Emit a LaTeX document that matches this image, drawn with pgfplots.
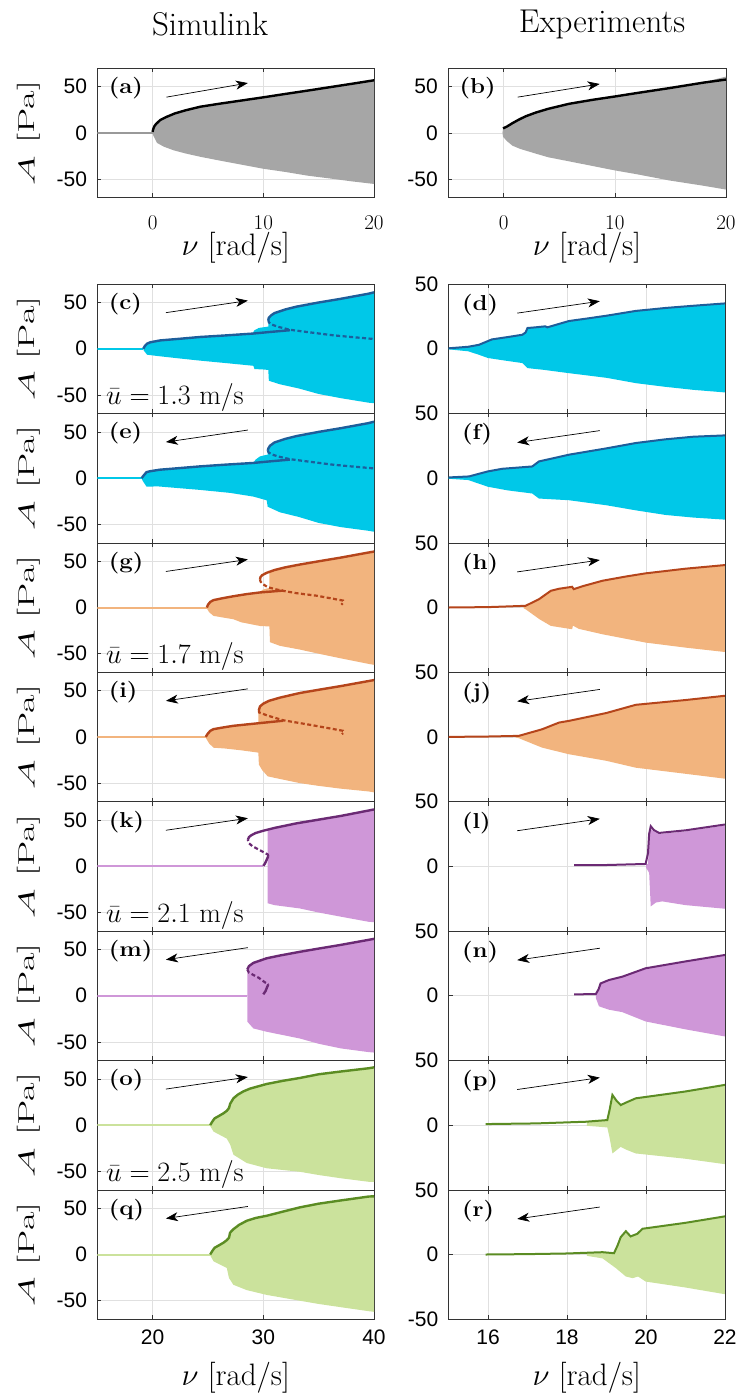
\RequirePackage{fix-cm}
\documentclass[border=0pt]{standalone}
\usepackage{fontspec}
\usepackage{graphicx}
\usepackage{pgfplots}
\pgfplotsset{compat=1.18}
\usetikzlibrary{arrows.meta}
\newfontfamily\ticksans{Liberation Sans}

\definecolor{cyanF}{HTML}{00C8E8}
\definecolor{cyanL}{HTML}{1D5E9B}
\definecolor{orgF}{HTML}{F2B47E}
\definecolor{orgL}{HTML}{B5451B}
\definecolor{purF}{HTML}{CF97D8}
\definecolor{purL}{HTML}{6B2A74}
\definecolor{grnF}{HTML}{CBE29C}
\definecolor{grnL}{HTML}{5B8C23}
\definecolor{grayF}{HTML}{A6A6A6}

\newcommand{\ylab}{\scalebox{1.75}[1]{\fontsize{23}{25}\selectfont $A$ [Pa]}}
\newcommand{\xlab}{\fontsize{31}{33}\selectfont $\nu$ [rad/s]}
\newcommand{\plab}[1]{\scalebox{1}[0.9]{\fontsize{24}{26}\selectfont\bfseries (#1)}}
\newcommand{\ulab}[1]{\fontsize{28}{30}\selectfont $\bar{u}=#1~\mathrm{m/s}$}

\tikzset{arr/.style={black, line width=0.7pt, -{Stealth[length=12pt,width=9pt,inset=3.5pt]}}}

\pgfplotsset{
  panel/.style={scale only axis, anchor=north west,
    axis line style={draw=black!80, line width=0.6pt},
    tick align=inside, major tick length=4pt,
    every tick/.style={black!80, line width=0.6pt},
    grid=major, major grid style={black!12, line width=0.6pt},
    ticklabel style={font=\ticksans\fontsize{21}{23}\selectfont},
    yticklabel style={anchor=east, inner sep=0pt, xshift=-10pt},
    xticklabel style={anchor=center, inner sep=0pt},
    ylabel style={at={(rel axis cs:0,0.5)}, anchor=center, yshift=68.3pt}},
  leftp/.style={panel, width=276.7pt, height=129.4pt, xmin=15, xmax=40,
    ymin=-70, ymax=70, xtick={20,30,40}, ytick={-50,0,50},
    yticklabels={-50,0,50}, xticklabels={}, ylabel={\ylab}},
  rightp/.style={panel, width=276.5pt, height=129.4pt, xmin=15, xmax=22,
    ymin=-50, ymax=50, xtick={16,18,20,22}, ytick={0,50},
    yticklabels={0,50}, xticklabels={}},
  simL/.style={line width=2.4pt},
  dsh/.style={line width=2.2pt, dash pattern=on 4pt off 2.5pt},
  preL/.style={line width=2pt},
  expL/.style={line width=2pt},
}

\begin{document}
\begin{tikzpicture}
\useasboundingbox (0pt,0pt) rectangle (738pt,-1393pt);

\node[font=\fontsize{33}{35}\selectfont] at (210pt,-24pt) {Simulink};
\node[font=\fontsize{33}{35}\selectfont] at (602pt,-24pt) {Experiments};

% ---------------- (a) ----------------
\begin{axis}[panel, at={(97.3pt,-68.3pt)}, width=276.7pt, height=129pt,
  xmin=-5, xmax=20, ymin=-70, ymax=70, xtick={0,10,20}, ytick={-50,0,50},
  yticklabels={-50,0,50}, xticklabel style={yshift=-25pt},
  ylabel={\ylab}, xlabel={\xlab},
  xlabel style={at={(rel axis cs:0.5,0)}, anchor=center, yshift=-50pt}]
\addplot[fill=grayF, draw=none] coordinates {(0,1)(0.1,5)(0.3,9)(0.7,14)(1.2,17)(2,21)(3,24.5)(4.3,28.3)(6,31.5)(8,35)(10,38.5)(12,42.2)(14,45.8)(16,49.5)(18,53.2)(20,57)(20,-55.5)(18,-52.7)(16.3,-50)(14,-46.5)(12,-42.5)(10,-39)(8,-34.5)(6,-30)(4.3,-26)(3,-22.5)(1.9,-19)(1,-15)(0.4,-11)(0.1,-4)(0,-1)};
\addplot[preL, color=black!40] coordinates {(-5,0)(0,0)};
\addplot[simL, black] coordinates {(0,1)(0.05,4)(0.15,7)(0.3,9.5)(0.7,14)(1.2,17)(2,21)(3,24.5)(4.3,28.3)(6,31.5)(8,35)(10,38.5)(12,42.2)(14,45.8)(16,49.5)(18,53.2)(20,57)};
\draw[arr] (axis cs:1.24,38.7) -- (axis cs:8.6,54);
\node[anchor=west, xshift=8pt, yshift=-20pt] at (rel axis cs:0,1) {\plab{a}};
\end{axis}

% ---------------- (b) ----------------
\begin{axis}[panel, at={(448pt,-68.3pt)}, width=278pt, height=129pt,
  xmin=-5, xmax=20, ymin=-70, ymax=70, xtick={0,10,20}, ytick={-50,0,50},
  yticklabels={-50,0,50}, xticklabel style={yshift=-25pt},
  xlabel={\xlab},
  xlabel style={at={(rel axis cs:0.5,0)}, anchor=center, yshift=-50pt}]
\addplot[fill=grayF, draw=none] coordinates {(-0.1,0)(-0.05,4.8)(0.3,6.8)(0.8,10.5)(1.4,14.5)(2,18)(2.9,22)(4,26)(5.9,31.5)(8,35.8)(10,39.4)(12,43.2)(14.9,48.5)(18,55)(20,61)(20,-61.6)(18,-57.5)(14.9,-51.7)(12,-45)(10,-40.8)(8,-36)(5.9,-31)(4,-26.5)(2.9,-22.6)(1.5,-17.5)(0.8,-14)(0.3,-9)(-0.05,-4.3)};
\addplot[simL, black] coordinates {(-0.05,4.8)(0.3,6.8)(0.8,10.5)(1.4,14.5)(2,18)(2.9,22)(4,26)(5.9,31.5)(8,35.8)(10,39.4)(12,43.2)(14.9,48.5)(18,54.5)(20,57.8)};
\draw[arr] (axis cs:1.26,38.7) -- (axis cs:8.64,53);
\node[anchor=west, xshift=8pt, yshift=-20pt] at (rel axis cs:0,1) {\plab{b}};
\end{axis}

% ================= left column: Simulink =================
% (c) u = 1.3, increasing
\begin{axis}[leftp, at={(97.3pt,-284pt)}]
\addplot[fill=cyanF, draw=none] coordinates {(19.15,0)(19.3,3)(19.5,5.5)(19.8,7)(20.7,9)(22.5,10.8)(24.3,12.7)(26.5,14.3)(29.0,16.3)(29.2,20)(29.6,22.5)(30.2,23.5)(30.45,24)(30.45,31)(30.6,35)(31,38.5)(32,42.5)(33,45.5)(35,50)(37,54)(39.5,59.5)(40,61)(40,-59)(39.5,-58.4)(37,-53.5)(35,-49)(33.2,-43)(31.5,-38.5)(30.5,-34.7)(30.45,-23)(30,-22.5)(29.2,-22)(29.1,-18.5)(27,-16)(24.2,-12.8)(22,-10)(20.5,-8)(19.5,-6.5)(19.2,-2)};
\addplot[preL, cyanF] coordinates {(15,0)(19.15,0)};
\addplot[simL, cyanL] coordinates {(19.15,0)(19.3,3)(19.5,5.5)(19.8,7)(20.7,9)(22.5,10.8)(24.3,12.7)(26.5,14.3)(29.1,16.4)(30.5,18)(32.4,20)};
\addplot[simL, cyanL] coordinates {(30.45,31)(30.5,33.5)(30.7,36)(31,38.5)(32,42.5)(33,45.5)(35,50)(37,54)(39.5,59.5)(40,61)};
\addplot[dsh, cyanL] coordinates {(30.45,31)(30.5,28.5)(30.8,26)(31.3,23.8)(32.4,20.5)(34,18)(36.3,14.5)(38,12.6)(40,10.5)};
\draw[arr] (axis cs:21.2,39) -- (axis cs:28.6,52);
\node[anchor=west, xshift=8pt, yshift=-20pt] at (rel axis cs:0,1) {\plab{c}};
\node[anchor=base west, inner sep=0pt, xshift=8.7pt, yshift=8.4pt] at (rel axis cs:0,0) {\ulab{1.3}};
\end{axis}

% (e) u = 1.3, decreasing
\begin{axis}[leftp, at={(97.3pt,-413.4pt)}]
\addplot[fill=cyanF, draw=none] coordinates {(19.0,0)(19.2,3)(19.45,6.5)(19.8,7.5)(20.66,9.1)(22.5,10.9)(24.3,12.7)(26.5,14.5)(29.1,16.4)(29.3,20)(29.7,23.5)(30.2,25)(30.4,25)(30.4,29.5)(30.6,35)(31,38.5)(32,42.5)(33,45.5)(35,50)(37,54)(39.5,59.5)(40,61)(40,-58)(39.5,-57)(37,-53)(35,-48.5)(33.2,-42)(31.5,-37)(30.4,-31)(30.3,-24)(29.1,-20)(27,-16)(24.3,-12.8)(22,-10.5)(20.5,-9)(19.45,-9.2)(19.1,-3)};
\addplot[preL, cyanF] coordinates {(15,0)(19.0,0)};
\addplot[simL, cyanL] coordinates {(19.0,0)(19.2,3)(19.45,6.5)(19.8,7.5)(20.66,9.1)(22.5,10.9)(24.3,12.7)(26.5,14.5)(29.1,16.4)(30.5,18)(32.4,20)};
\addplot[simL, cyanL] coordinates {(30.4,29.5)(30.45,32)(30.6,35)(31,38.5)(32,42.5)(33,45.5)(35,50)(37,54)(39.5,59.5)(40,61)};
\addplot[dsh, cyanL] coordinates {(30.4,29.5)(30.5,27.5)(30.8,25.5)(31.3,23.5)(32.4,20.5)(34,18)(36.3,14.5)(38,12.6)(40,10.5)};
\draw[arr] (axis cs:28.6,52) -- (axis cs:21.2,39);
\node[anchor=west, xshift=8pt, yshift=-20pt] at (rel axis cs:0,1) {\plab{e}};
\end{axis}

% (g) u = 1.7, increasing
\begin{axis}[leftp, at={(97.3pt,-542.8pt)}]
\addplot[fill=orgF, draw=none] coordinates {(24.9,0)(25.0,3)(25.2,6)(25.5,8)(26.3,10)(27.3,12.2)(28.5,14.5)(29.7,16.3)(29.9,19)(30.3,20.5)(30.55,21)(30.55,37.8)(31,40.5)(32,43.5)(33.3,46.5)(35,50)(37,54)(39.5,59.5)(40,60.5)(40,-62)(39.5,-61)(37,-55)(35,-50)(33.3,-45.5)(31.5,-41.5)(30.6,-37.5)(30.55,-20.5)(29.7,-20)(28,-16)(27.3,-12.7)(25.5,-9.1)(25.1,-5)(24.9,-1)};
\addplot[preL, orgF] coordinates {(15,0)(24.9,0)};
\addplot[simL, orgL] coordinates {(24.9,0)(25.0,3)(25.2,6)(25.5,8)(26.3,10)(27.3,12.2)(28.5,14.5)(29.7,16.3)(31.8,18.3)};
\addplot[simL, orgL] coordinates {(29.7,30.6)(29.75,33)(29.9,35)(30.3,37.5)(31,40.5)(32,43.5)(33.3,46.5)(35,50)(37,54)(39.5,59.5)(40,60.5)};
\addplot[dsh, orgL] coordinates {(29.7,30.6)(29.75,28)(30.0,25)(30.4,22)(31.2,19.5)(31.8,18)(33,15.5)(34.8,12.8)(37.2,7.5)(37.2,5)(37.05,3)};
\draw[arr] (axis cs:21.2,39) -- (axis cs:28.6,52);
\node[anchor=west, xshift=8pt, yshift=-20pt] at (rel axis cs:0,1) {\plab{g}};
\node[anchor=base west, inner sep=0pt, xshift=8.7pt, yshift=8.4pt] at (rel axis cs:0,0) {\ulab{1.7}};
\end{axis}

% (i) u = 1.7, decreasing
\begin{axis}[leftp, at={(97.3pt,-672.2pt)}]
\addplot[fill=orgF, draw=none] coordinates {(24.8,0)(24.95,3)(25.2,6.5)(25.5,8.4)(26.5,10.5)(28,13)(29.55,15)(29.55,29)(29.7,33)(30,36)(30.5,39)(31.5,42.5)(33.3,47.5)(35,51)(37,55)(40,61.5)(40,-60)(39.5,-59)(37,-56)(35,-53)(33.3,-50)(31.5,-45.5)(30.4,-42.7)(29.9,-36)(29.6,-30)(29.55,-17)(28,-14.5)(26.5,-12.5)(25.5,-11.7)(25.1,-7)(24.8,-1)};
\addplot[preL, orgF] coordinates {(15,0)(24.8,0)};
\addplot[simL, orgL] coordinates {(24.8,0)(24.95,3)(25.2,6.5)(25.5,8.4)(26.5,10.5)(27.3,12)(28.5,13.5)(29.4,14.6)(31.8,17.5)};
\addplot[simL, orgL] coordinates {(29.6,29)(29.7,33)(30,36)(30.5,39)(31.5,42.5)(33.3,47.5)(35,51)(37,55)(40,61.5)};
\addplot[dsh, orgL] coordinates {(29.6,29)(29.62,26.5)(30.4,23)(31.8,18)(34.5,12.5)(37.2,6.6)(37.25,4.5)(37.1,3)};
\draw[arr] (axis cs:28.6,52) -- (axis cs:21.2,39);
\node[anchor=west, xshift=8pt, yshift=-20pt] at (rel axis cs:0,1) {\plab{i}};
\end{axis}

% (k) u = 2.1, increasing
\begin{axis}[leftp, at={(97.3pt,-801.6pt)}]
\addplot[fill=purF, draw=none] coordinates {(30.4,39)(31,41.5)(33,46.5)(35,50.5)(37,54.5)(40,61.5)(40,-60.5)(39.5,-60)(37,-54.5)(35,-50)(33.3,-45.6)(31,-42)(30.4,-40)};
\addplot[preL, purF] coordinates {(15,0)(30.0,0)};
\addplot[simL, purL] coordinates {(30.0,0.5)(30.15,3)(30.3,7)(30.45,11)};
\addplot[dsh, purL] coordinates {(30.45,11)(30.4,12.8)(29.6,18)(29.0,21.9)(28.7,25)(28.6,28.6)};
\addplot[simL, purL] coordinates {(28.6,28.6)(28.7,31.5)(28.9,33.5)(29.3,36)(30,38.5)(31,41.5)(33,46.5)(35,50.5)(37,54.5)(40,61.5)};
\draw[arr] (axis cs:21.2,39) -- (axis cs:28.6,52);
\node[anchor=west, xshift=8pt, yshift=-20pt] at (rel axis cs:0,1) {\plab{k}};
\node[anchor=base west, inner sep=0pt, xshift=8.7pt, yshift=8.4pt] at (rel axis cs:0,0) {\ulab{2.1}};
\end{axis}

% (m) u = 2.1, decreasing
\begin{axis}[leftp, at={(97.3pt,-931pt)}]
\addplot[fill=purF, draw=none] coordinates {(28.55,28.4)(28.7,32)(29.1,35.5)(30.3,40.5)(31.5,43.5)(33.3,47.5)(35,51)(37,55)(40,61.5)(40,-61.5)(39.5,-61)(37,-57)(35,-52)(33.3,-46.3)(30.3,-39)(29.1,-35.4)(28.55,-28)};
\addplot[preL, purF] coordinates {(15,0)(28.55,0)};
\addplot[simL, purL] coordinates {(28.55,28.4)(28.7,32)(29.1,35.5)(30.3,40.5)(31.5,43.5)(33.3,47.5)(35,51)(37,55)(40,61.5)};
\addplot[dsh, purL] coordinates {(28.55,28.4)(28.7,25)(29.6,19.3)(30.2,14)(30.45,12.4)};
\addplot[simL, purL] coordinates {(30.45,12.4)(30.2,5)(30.0,1.5)};
\draw[arr] (axis cs:28.6,52) -- (axis cs:21.2,39);
\node[anchor=west, xshift=8pt, yshift=-20pt] at (rel axis cs:0,1) {\plab{m}};
\end{axis}

% (o) u = 2.5, increasing
\begin{axis}[leftp, at={(97.3pt,-1060.4pt)}]
\addplot[fill=grnF, draw=none] coordinates {(25.2,0)(25.4,4)(25.6,7.3)(26,10)(26.4,12.8)(26.7,15.5)(26.9,18.5)(27.0,23)(27.3,29)(27.7,33)(28.2,36.5)(28.8,39.5)(30.3,44.5)(31.8,48)(33.3,51)(35,55)(37,58)(39.5,61.5)(40,62.5)(40,-61.5)(39.5,-61.3)(37,-57.5)(35,-54)(33.3,-50.5)(30.3,-46.7)(28.5,-41)(27.3,-32)(27.0,-21)(26.7,-14.6)(25.5,-7)(25.2,-1)};
\addplot[preL, grnF] coordinates {(15,0)(25.2,0)};
\addplot[simL, grnL] coordinates {(25.2,0)(25.4,4)(25.6,7.3)(26,10)(26.4,12.8)(26.7,15.5)(26.9,18.5)(27.0,23)(27.3,29)(27.7,33)(28.2,36.5)(28.8,39.5)(30.3,44.5)(31.8,48)(33.3,51)(35,55)(37,58)(39.5,61.5)(40,62.5)};
\draw[arr] (axis cs:21.2,39) -- (axis cs:28.6,52);
\node[anchor=west, xshift=8pt, yshift=-20pt] at (rel axis cs:0,1) {\plab{o}};
\node[anchor=base west, inner sep=0pt, xshift=8.7pt, yshift=8.4pt] at (rel axis cs:0,0) {\ulab{2.5}};
\end{axis}

% (q) u = 2.5, decreasing
\begin{axis}[leftp, at={(97.3pt,-1189.8pt)}, xticklabels={20,30,40},
  xticklabel style={yshift=-18pt}, xlabel={\xlab},
  xlabel style={at={(rel axis cs:0.5,0)}, anchor=center, yshift=-59pt}]
\addplot[fill=grnF, draw=none] coordinates {(25.2,0)(25.4,4)(25.6,7.3)(26,10)(26.4,12.8)(26.7,15.5)(26.9,18.2)(27.0,23.7)(27.3,27.4)(27.8,32)(28.5,36.5)(29.3,39.5)(30.3,41.9)(31.8,46.5)(33.3,51)(35,55)(37,58.5)(39.5,62.7)(40,63)(40,-62)(39.5,-61.3)(37,-57)(35,-53.5)(33.3,-50)(30.3,-43.7)(28.5,-38.5)(27.3,-32.8)(26.9,-25.5)(26.7,-14.6)(25.5,-7.3)(25.2,-1)};
\addplot[preL, grnF] coordinates {(15,0)(25.2,0)};
\addplot[simL, grnL] coordinates {(25.2,0)(25.4,4)(25.6,7.3)(26,10)(26.4,12.8)(26.7,15.5)(26.9,18.2)(27.0,23.7)(27.3,27.4)(27.8,32)(28.5,36.5)(29.3,39.5)(30.3,41.9)(31.8,46.5)(33.3,51)(35,55)(37,58.5)(39.5,62.7)(40,63)};
\draw[arr] (axis cs:28.6,52) -- (axis cs:21.2,39);
\node[anchor=west, xshift=8pt, yshift=-20pt] at (rel axis cs:0,1) {\plab{q}};
\end{axis}

% ================= right column: experiments =================
% (d)
\begin{axis}[rightp, at={(448.5pt,-284pt)}]
\addplot[fill=cyanF, draw=none] coordinates {(15,0.3)(15.5,1.5)(15.77,3)(16.1,7.2)(16.5,9)(16.87,10.8)(16.95,12.5)(17.0,16)(17.2,16.5)(17.45,17.3)(17.5,16.5)(18.05,21.4)(18.5,23.3)(19,25.5)(19.74,29.2)(20.5,31.5)(21.2,33.2)(22,35)(22,-33.8)(21.2,-31.8)(20.5,-29.5)(19.74,-26.6)(19,-22.5)(18.05,-18.9)(17.4,-16.3)(17.0,-15)(16.87,-11.1)(16.5,-9.5)(16.0,-7.2)(15.77,-4.7)(15.5,-2)(15,-0.5)};
\addplot[expL, cyanL] coordinates {(15,0.3)(15.5,1.5)(15.77,3)(16.1,7.2)(16.5,9)(16.87,10.8)(16.95,12.5)(17.0,16)(17.2,16.5)(17.45,17.3)(17.5,16.5)(18.05,21.4)(18.5,23.3)(19,25.5)(19.74,29.2)(20.5,31.5)(21.2,33.2)(22,35)};
\draw[arr] (axis cs:16.74,27.5) -- (axis cs:18.83,36.7);
\node[anchor=west, xshift=10pt, yshift=-21pt] at (rel axis cs:0,1) {\plab{d}};
\end{axis}

% (f)
\begin{axis}[rightp, at={(448.5pt,-413.4pt)}]
\addplot[fill=cyanF, draw=none] coordinates {(15,0.5)(15.52,1.3)(16.0,5.2)(16.36,7.2)(17.12,9.0)(17.29,12.9)(17.6,15)(18.05,18.1)(19,23)(19.74,27.1)(20.5,30)(21.2,32)(22,33)(22,-32.1)(21.2,-30.5)(20.5,-28.5)(19.74,-24.9)(19,-21)(18.05,-17.1)(17.29,-15.8)(17.12,-11.9)(16.5,-9.5)(16.0,-6.7)(15.5,-1.5)(15,-0.5)};
\addplot[expL, cyanL] coordinates {(15,0.5)(15.52,1.3)(16.0,5.2)(16.36,7.2)(17.12,9.0)(17.29,12.9)(17.6,15)(18.05,18.1)(19,23)(19.74,27.1)(20.5,30)(21.2,32)(22,33)};
\draw[arr] (axis cs:18.83,36.7) -- (axis cs:16.74,27.5);
\node[anchor=west, xshift=10pt, yshift=-21pt] at (rel axis cs:0,1) {\plab{f}};
\end{axis}

% (h)
\begin{axis}[rightp, at={(448.5pt,-542.8pt)}]
\addplot[fill=orgF, draw=none] coordinates {(16.9,0.5)(16.95,1.3)(17.29,6.4)(17.59,12.9)(17.8,14.5)(18.13,16)(18.17,14.2)(18.4,16.5)(18.9,20.7)(19.5,24)(19.99,26.4)(21,30)(22,32.8)(22,-34.4)(21,-31)(19.99,-27.1)(18.9,-20.7)(18.3,-16.5)(18.15,-14)(18.13,-16.8)(17.59,-14.2)(17.3,-9)(16.95,-1.3)(16.9,-0.5)};
\addplot[expL, orgL] coordinates {(15,0)(16,0.3)(16.95,1.3)(17.29,6.4)(17.59,12.9)(17.8,14.5)(18.13,16)(18.17,14.2)(18.4,16.5)(18.9,20.7)(19.5,24)(19.99,26.4)(21,30)(22,32.8)};
\draw[arr] (axis cs:16.74,27.5) -- (axis cs:18.83,36.7);
\node[anchor=west, xshift=10pt, yshift=-21pt] at (rel axis cs:0,1) {\plab{h}};
\end{axis}

% (j)
\begin{axis}[rightp, at={(448.5pt,-672.2pt)}]
\addplot[fill=orgF, draw=none] coordinates {(16.7,0.5)(16.78,0.8)(17.37,5.9)(17.8,11.1)(18.05,12.4)(19,18.5)(19.74,24.8)(21,28.5)(22,31.8)(22,-32.3)(21,-28.5)(19.74,-23.8)(19,-18.5)(18.05,-13.4)(17.37,-8.3)(16.78,-1)(16.7,-0.5)};
\addplot[expL, orgL] coordinates {(15,0)(16,0.3)(16.78,0.8)(17.37,5.9)(17.8,11.1)(18.05,12.4)(19,18.5)(19.74,24.8)(21,28.5)(22,31.8)};
\draw[arr] (axis cs:18.83,36.7) -- (axis cs:16.74,27.5);
\node[anchor=west, xshift=10pt, yshift=-21pt] at (rel axis cs:0,1) {\plab{j}};
\end{axis}

% (l)
\begin{axis}[rightp, at={(448.5pt,-801.6pt)}]
\addplot[fill=purF, draw=none] coordinates {(20.0,1)(20.05,2)(20.1,29)(20.2,27)(20.33,25)(21,27)(22,31.5)(22,-32.8)(21,-30)(20.41,-27.1)(20.25,-28)(20.12,-31)(20.08,-5)(20.0,-1)};
\addplot[expL, purL] coordinates {(18.18,1)(19.0,1)(19.99,1.8)(20.05,10)(20.08,25)(20.12,31)(20.2,28)(20.33,25.8)(21,27.8)(22,32.3)};
\draw[arr] (axis cs:16.74,27.5) -- (axis cs:18.83,36.7);
\node[anchor=west, xshift=10pt, yshift=-21pt] at (rel axis cs:0,1) {\plab{l}};
\end{axis}

% (n)
\begin{axis}[rightp, at={(448.5pt,-931pt)}]
\addplot[fill=purF, draw=none] coordinates {(18.73,1.3)(18.8,5)(18.85,9.5)(19.06,12.1)(19.4,14.7)(19.99,21.2)(21,26.5)(22,31.5)(22,-31.5)(21,-26)(19.99,-19.9)(19.4,-12.7)(19.06,-10.8)(18.81,-8.2)(18.73,-1.8)};
\addplot[expL, purL] coordinates {(18.18,1)(18.73,1.3)(18.8,5)(18.85,9.5)(19.06,12.1)(19.4,14.7)(19.99,21.2)(21,26.5)(22,31.5)};
\draw[arr] (axis cs:18.83,36.7) -- (axis cs:16.74,27.5);
\node[anchor=west, xshift=10pt, yshift=-21pt] at (rel axis cs:0,1) {\plab{n}};
\end{axis}

% (p)
\begin{axis}[rightp, at={(448.5pt,-1060.4pt)}]
\addplot[fill=grnF, draw=none] coordinates {(18.5,2.5)(19.02,3.9)(19.08,12)(19.15,23.3)(19.25,19)(19.36,15.5)(19.5,17.5)(19.74,20.7)(21,26)(22,31.1)(22,-30.2)(21,-26)(19.74,-21.9)(19.5,-19)(19.36,-16.8)(19.15,-21.9)(19.08,-10)(19.02,-1.8)(18.5,-0.5)};
\addplot[expL, grnL] coordinates {(15.94,0.8)(17.21,1.3)(18.47,2.6)(19.02,3.9)(19.08,12)(19.15,23.3)(19.25,19)(19.36,15.5)(19.5,17.5)(19.74,20.7)(21,26)(22,31.1)};
\draw[arr] (axis cs:16.74,27.5) -- (axis cs:18.83,36.7);
\node[anchor=west, xshift=10pt, yshift=-21pt] at (rel axis cs:0,1) {\plab{p}};
\end{axis}

% (r)
\begin{axis}[rightp, at={(448.5pt,-1189.8pt)}, ytick={-50,0,50},
  yticklabels={-50,0,50}, xticklabels={16,18,20,22},
  xticklabel style={yshift=-18pt}, xlabel={\xlab},
  xlabel style={at={(rel axis cs:0.5,0)}, anchor=center, yshift=-59pt}]
\addplot[fill=grnF, draw=none] coordinates {(18.5,1.5)(18.9,1.8)(19.19,1)(19.28,7)(19.36,13.4)(19.49,18)(19.61,14)(19.78,16)(19.91,19.9)(21,24.5)(22,29.5)(22,-30.7)(21,-25.5)(19.99,-20.9)(19.8,-17)(19.66,-18.3)(19.49,-17)(19.24,-10.6)(18.9,-3)(18.5,-1)};
\addplot[expL, grnL] coordinates {(15.94,0)(17,0.3)(18,0.8)(18.9,1.8)(19.19,1)(19.28,7)(19.36,13.4)(19.49,18)(19.61,14)(19.78,16)(19.91,19.9)(21,24.5)(22,29.5)};
\draw[arr] (axis cs:18.83,36.7) -- (axis cs:16.74,27.5);
\node[anchor=west, xshift=10pt, yshift=-21pt] at (rel axis cs:0,1) {\plab{r}};
\end{axis}
\end{tikzpicture}
\end{document}
